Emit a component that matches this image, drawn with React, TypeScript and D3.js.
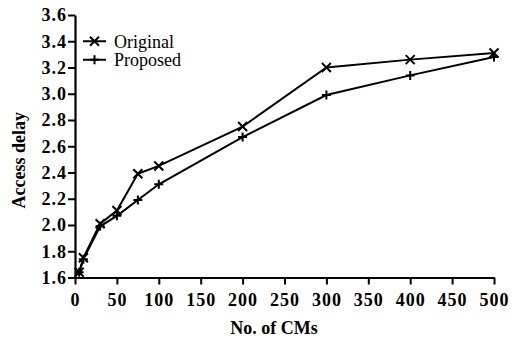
import { useEffect, useRef } from "react";
import * as d3 from "d3";

// values
const cms = [5, 10, 30, 50, 75, 100, 200, 300, 400, 500];
const original = [1.64, 1.75, 2.01, 2.11, 2.39, 2.45, 2.75, 3.2, 3.26, 3.31];
const proposed = [1.64, 1.74, 1.99, 2.07, 2.19, 2.31, 2.67, 2.99, 3.14, 3.28];
const xTicks = [0, 50, 100, 150, 200, 250, 300, 350, 400, 450, 500];
const yTicks = [1.6, 1.8, 2.0, 2.2, 2.4, 2.6, 2.8, 3.0, 3.2, 3.4, 3.6];

const W = 514;
const H = 341;
const FONT = "Liberation Serif";

export default function App() {
  const ref = useRef<SVGSVGElement>(null);

  useEffect(() => {
    const svg = d3.select(ref.current);
    svg.selectAll("*").remove();

    const x = d3.scaleLinear().domain([0, 500]).range([75, 494]);
    const y = d3.scaleLinear().domain([1.6, 3.6]).range([277.5, 15]);

    // axes
    const gx = svg.append("g").attr("transform", `translate(0,${y(1.6)})`)
      .call(d3.axisBottom(x).tickValues(xTicks).tickFormat(d3.format("d")).tickSize(7).tickSizeOuter(0));
    const gy = svg.append("g").attr("transform", `translate(${x(0)},0)`)
      .call(d3.axisLeft(y).tickValues(yTicks).tickFormat(d3.format(".1f")).tickSize(7).tickSizeOuter(0));
    [gx, gy].forEach((g) => {
      g.attr("font-family", null).attr("font-size", null);
      g.select(".domain").attr("stroke", "#000").attr("stroke-width", 2.2);
      g.selectAll(".tick line").attr("stroke", "#000").attr("stroke-width", 2);
      g.selectAll(".tick text").attr("fill", "#000").style("font-family", FONT)
        .style("font-weight", "bold").style("font-size", "18px").style("letter-spacing", "1px");
    });
    gx.selectAll(".tick text").attr("dy", "1em").attr("y", 10);
    gy.selectAll(".tick text").attr("x", -8);

    // axis titles
    svg.append("text").attr("x", 274).attr("y", 334).attr("text-anchor", "middle")
      .style("font-family", FONT).style("font-weight", "bold").style("font-size", "18px").text("No. of CMs");
    svg.append("text").attr("transform", `translate(25,${(y(1.6) + y(3.6)) / 2 + 14}) rotate(-90)`)
      .attr("text-anchor", "middle").style("font-family", FONT).style("font-weight", "bold")
      .style("font-size", "18px").text("Access delay");

    const line = d3.line<number>().x((_, i) => x(cms[i])).y((d) => y(d));
    const series = [
      { name: "Original", values: original, marker: "x" },
      { name: "Proposed", values: proposed, marker: "+" },
    ];

    const marker = (g: any, type: string, cx: number, cy: number) => {
      const s = 4.5;
      const p = type === "x"
        ? `M${cx - s},${cy - s}L${cx + s},${cy + s}M${cx - s},${cy + s}L${cx + s},${cy - s}`
        : `M${cx - s},${cy}L${cx + s},${cy}M${cx},${cy - s}L${cx},${cy + s}`;
      g.append("path").attr("d", p).attr("stroke", "#000").attr("stroke-width", 2).attr("fill", "none");
    };

    series.forEach((s) => {
      svg.append("path").attr("d", line(s.values)).attr("fill", "none")
        .attr("stroke", "#000").attr("stroke-width", 2);
      const g = svg.append("g");
      s.values.forEach((v, i) => marker(g, s.marker, x(cms[i]), y(v)));
    });

    // legend
    const lg = svg.append("g");
    series.forEach((s, i) => {
      const ly = y(3.4) + i * 18.5;
      lg.append("line").attr("x1", 83).attr("x2", 106).attr("y1", ly).attr("y2", ly)
        .attr("stroke", "#000").attr("stroke-width", 2);
      marker(lg, s.marker, 94.5, ly);
      lg.append("text").attr("x", 114).attr("y", ly).attr("dy", "0.35em")
        .style("font-family", FONT).style("font-size", "18px").text(s.name);
    });
  }, []);

  return (
    <svg ref={ref} width={W} height={H}
      style={{ position: "absolute", left: 0, top: 0, background: "#fff" }} />
  );
}
